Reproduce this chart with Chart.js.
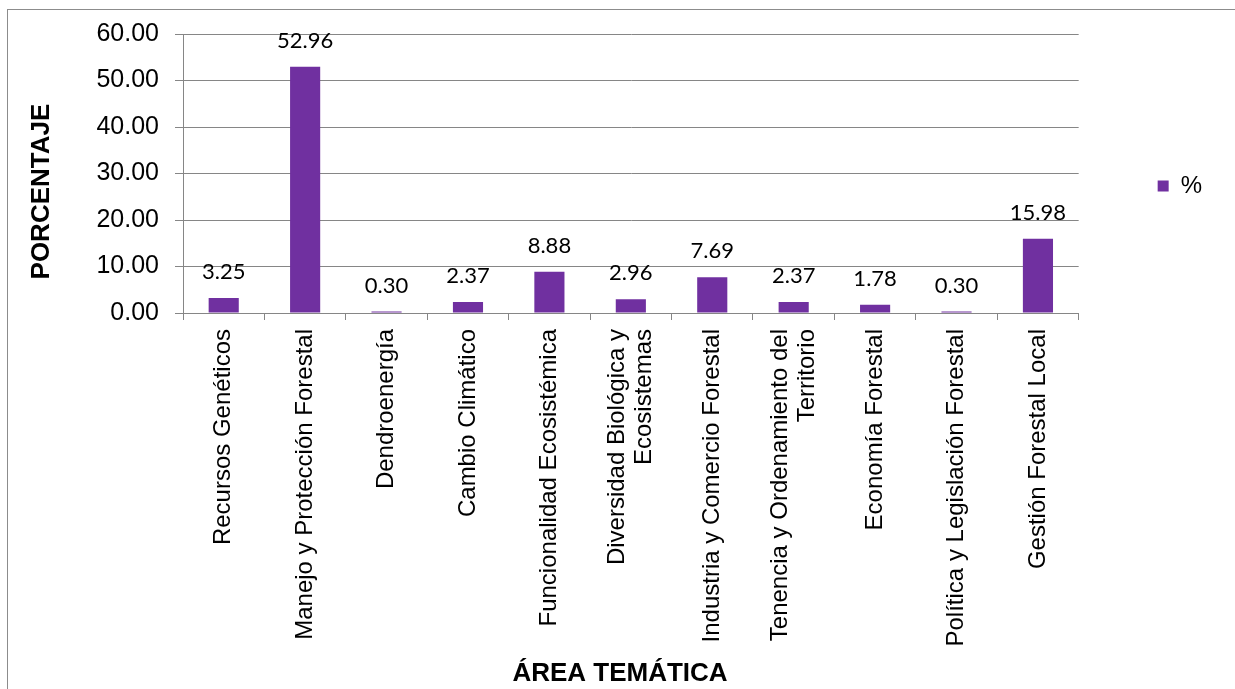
<!DOCTYPE html>
<html>
<head>
<meta charset="utf-8">
<script src="https://cdn.jsdelivr.net/npm/chart.js@4/dist/chart.umd.min.js"></script>
<style>
  html, body { margin: 0; padding: 0; background: #ffffff; overflow: hidden; }
  #frame { position: absolute; left: 7px; top: 9px; width: 1300px; height: 760px; border: 1px solid #8c8c8c; box-sizing: border-box; }
  #wrap { position: absolute; left: 0; top: 0; width: 1235px; height: 689px; }
</style>
</head>
<body>
<div id="frame"></div>
<div id="wrap"><canvas id="c" width="1235" height="689"></canvas></div>
<script>
const categories = [
  'Recursos Genéticos',
  'Manejo y Protección Forestal',
  'Dendroenergía',
  'Cambio Climático',
  'Funcionalidad Ecosistémica',
  ['Diversidad Biológica y', 'Ecosistemas'],
  'Industria y Comercio Forestal',
  ['Tenencia y Ordenamiento del', 'Territorio'],
  'Economía Forestal',
  'Política y Legislación Forestal',
  'Gestión Forestal Local'
];
const seriesName = '%';
const percentValues = [3.25, 52.96, 0.30, 2.37, 8.88, 2.96, 7.69, 2.37, 1.78, 0.30, 15.98];
const yTickMin = 0;
const yTickMax = 60;
const yTickStep = 10;
const yTitle = 'PORCENTAJE';
const xTitle = 'ÁREA TEMÁTICA';

const FONT = '"Liberation Sans", Arial, sans-serif';
const GRID = '#868686';

const valueLabels = {
  id: 'valueLabels',
  afterDatasetsDraw(chart) {
    const ctx = chart.ctx;
    const meta = chart.getDatasetMeta(0);
    ctx.save();
    ctx.font = '22px Lato, "Open Sans", sans-serif';
    ctx.fillStyle = '#000';
    ctx.textAlign = 'center';
    ctx.textBaseline = 'alphabetic';
    meta.data.forEach((bar, i) => {
      ctx.fillText(percentValues[i].toFixed(2), bar.x, bar.y - 19);
    });
    ctx.restore();
  }
};

// center wrapped (multi-line) rotated category labels on their tick
const centerWrapped = {
  id: 'centerWrapped',
  beforeDraw(chart) {
    const scale = chart.scales.x;
    const items = scale.getLabelItems(chart.chartArea);
    items.forEach(item => {
      if (Array.isArray(item.label) && !item._centered) {
        item.textOffset -= (item.label.length - 1) * item.font.lineHeight / 2;
        item._centered = true;
      }
    });
  }
};

new Chart(document.getElementById('c'), {
  type: 'bar',
  data: {
    labels: categories,
    datasets: [{
      label: seriesName,
      data: percentValues,
      backgroundColor: '#7030A0',
      borderWidth: 0,
      barPercentage: 0.37,
      categoryPercentage: 1.0
    }]
  },
  options: {
    responsive: false,
    animation: false,
    devicePixelRatio: 1,
    layout: { padding: { left: 0, top: 34, right: 23, bottom: 0 } },
    plugins: {
      tooltip: { enabled: false },
      legend: {
        display: true,
        position: 'right',
        align: 'center',
        fullSize: false,
        title: { display: true, text: '', font: { size: 10 }, padding: { top: 13, bottom: 0 } },
        labels: {
          boxWidth: 11,
          boxHeight: 11,
          padding: 10,
          color: '#000',
          font: { family: FONT, size: 24 }
        }
      }
    },
    scales: {
      x: {
        offset: true,
        grid: { drawOnChartArea: false, drawTicks: true, tickLength: 7, color: GRID, offset: true },
        border: { display: true, color: GRID },
        ticks: {
          autoSkip: false,
          minRotation: 90,
          maxRotation: 90,
          padding: 9,
          color: '#000',
          font: { family: FONT, size: 24, lineHeight: 1.12 }
        },
        title: {
          display: true,
          text: xTitle + '   ',
          color: '#000',
          font: { family: FONT, size: 26, weight: 'bold' },
          padding: { top: 0, bottom: 0 }
        },
        afterFit(s) { s.height = 376; }
      },
      y: {
        min: yTickMin,
        max: yTickMax,
        grid: { color: GRID, tickLength: 8, drawTicks: true },
        border: { display: true, color: GRID },
        ticks: {
          stepSize: yTickStep,
          padding: 16,
          color: '#000',
          font: { family: FONT, size: 25 },
          callback: v => Number(v).toFixed(2)
        },
        title: {
          display: true,
          text: yTitle + '     ',
          color: '#000',
          font: { family: FONT, size: 26, weight: 'bold' },
          padding: { top: 26, bottom: 0 }
        },
        afterFit(s) { s.width = 183; }
      },
      gap: {
        type: 'linear',
        position: 'right',
        display: true,
        grid: { display: false, drawTicks: false },
        border: { display: false },
        ticks: { display: false },
        afterFit(s) { s.width = 69; }
      }
    }
  },
  plugins: [valueLabels, centerWrapped]
});
</script>
</body>
</html>
